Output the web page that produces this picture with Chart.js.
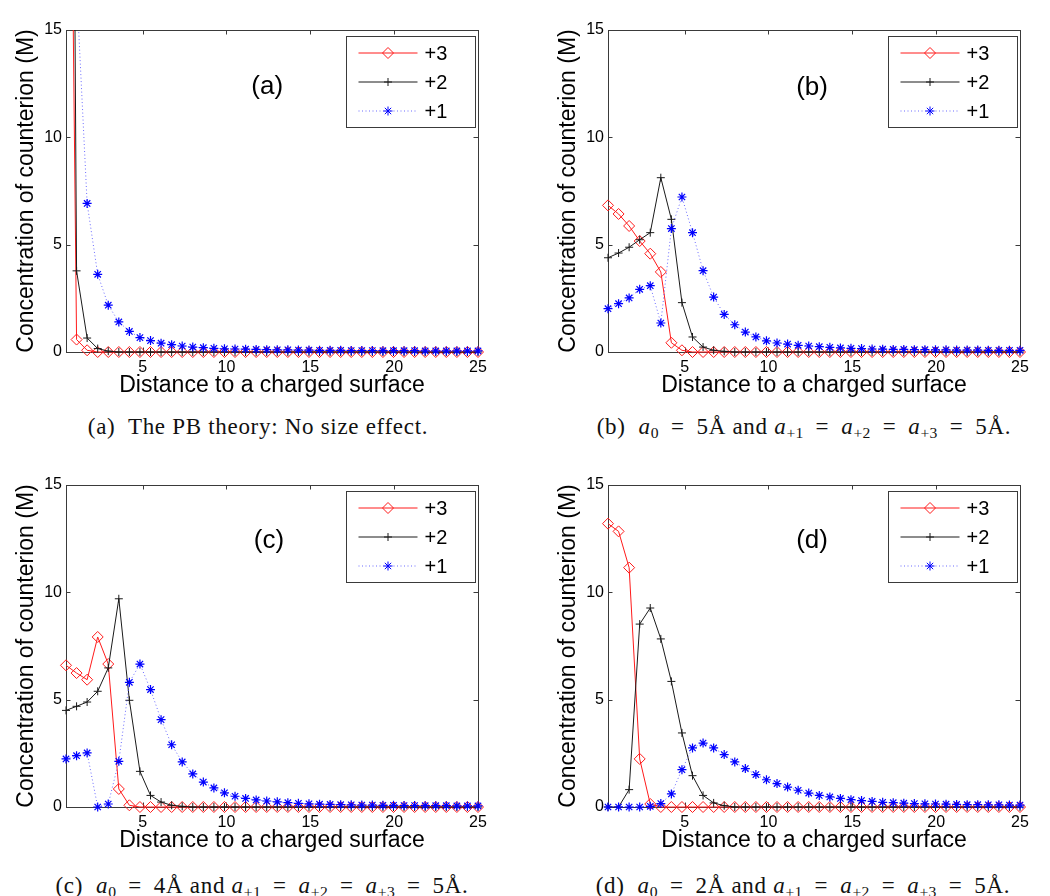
<!DOCTYPE html>
<html><head><meta charset="utf-8">
<script src="https://cdn.jsdelivr.net/npm/chart.js@4/dist/chart.umd.min.js"></script>
<style>
html,body{margin:0;padding:0;background:#fff;}
body{width:1050px;height:896px;position:relative;overflow:hidden;}
canvas{position:absolute;}
.cap{position:absolute;width:560px;text-align:center;font-family:"Liberation Serif","DejaVu Serif",serif;font-size:23px;letter-spacing:0.7px;color:#111;white-space:nowrap;line-height:1;}
.cap sub{font-size:68%;vertical-align:-0.28em;line-height:0;letter-spacing:0.3px;}
.cap .eq{margin:0 5.5px;}
</style></head><body>
<canvas id="ca" width="500" height="400" style="left:0px;top:0px"></canvas>
<canvas id="cb" width="500" height="400" style="left:542px;top:0px"></canvas>
<canvas id="cc" width="500" height="400" style="left:0px;top:455px"></canvas>
<canvas id="cd" width="500" height="400" style="left:542px;top:455px"></canvas>
<div class="cap" style="left:-22px;top:415px">(a)&nbsp; The PB theory: No size effect.</div>
<div class="cap" style="left:524px;top:415px">(b)&nbsp; <i>a</i><sub>0</sub> <span class="eq">=</span> 5Å and <i>a</i><sub>+1</sub> <span class="eq">=</span> <i>a</i><sub>+2</sub> <span class="eq">=</span> <i>a</i><sub>+3</sub> <span class="eq">=</span> 5Å.</div>
<div class="cap" style="left:-18px;top:874px">(c)&nbsp; <i>a</i><sub>0</sub> <span class="eq">=</span> 4Å and <i>a</i><sub>+1</sub> <span class="eq">=</span> <i>a</i><sub>+2</sub> <span class="eq">=</span> <i>a</i><sub>+3</sub> <span class="eq">=</span> 5Å.</div>
<div class="cap" style="left:523px;top:874px">(d)&nbsp; <i>a</i><sub>0</sub> <span class="eq">=</span> 2Å and <i>a</i><sub>+1</sub> <span class="eq">=</span> <i>a</i><sub>+2</sub> <span class="eq">=</span> <i>a</i><sub>+3</sub> <span class="eq">=</span> 5Å.</div>
<script>
// ---- data ----
const xs = [0.43,1.06,1.69,2.32,2.95,3.58,4.21,4.84,5.47,6.10,
            6.73,7.36,7.99,8.62,9.25,9.88,10.51,11.14,11.77,12.40,
            13.03,13.66,14.29,14.92,15.55,16.18,16.81,17.44,18.07,18.70,
            19.33,19.96,20.59,21.22,21.85,22.48,23.11,23.74,24.37,25.00];
const xTicks = [5,10,15,20,25];
const yTicks = [0,5,10,15];
const seriesNames = ['+3','+2','+1'];
const panelLabels = ['(a)','(b)','(c)','(d)'];
const xTitle = 'Distance to a charged surface';
const yTitle = 'Concentration of counterion (M)';

// panel (a)
const a3 = [47,0.58,0.08,0,0,0,0,0,0,0, 0,0,0,0,0,0,0,0,0,0, 0,0,0,0,0,0,0,0,0,0, 0,0,0,0,0,0,0,0,0,0];
const a2 = [80,3.78,0.65,0.16,0.04,0,0,0,0,0, 0,0,0,0,0,0,0,0,0,0, 0,0,0,0,0,0,0,0,0,0, 0,0,0,0,0,0,0,0,0,0];
const a1 = [40,17,6.92,3.62,2.18,1.40,0.96,0.67,0.53,0.41, 0.34,0.28,0.23,0.20,0.17,0.15,0.14,0.13,0.12,0.11,
            0.10,0.10,0.09,0.09,0.08,0.08,0.08,0.07,0.07,0.07, 0.06,0.06,0.06,0.06,0.05,0.05,0.05,0.05,0.05,0.05];
// panel (b)
const b3 = [6.83,6.43,5.87,5.17,4.58,3.73,0.43,0.08,0,0, 0,0,0,0,0,0,0,0,0,0, 0,0,0,0,0,0,0,0,0,0, 0,0,0,0,0,0,0,0,0,0];
const b2 = [4.39,4.61,4.88,5.23,5.56,8.12,6.18,2.30,0.70,0.23, 0.08,0.03,0,0,0,0,0,0,0,0, 0,0,0,0,0,0,0,0,0,0, 0,0,0,0,0,0,0,0,0,0];
const b1 = [2.02,2.25,2.52,2.92,3.09,1.35,5.75,7.22,5.56,3.79, 2.56,1.75,1.27,0.93,0.70,0.52,0.42,0.37,0.31,0.28,
            0.25,0.22,0.19,0.17,0.16,0.14,0.13,0.12,0.12,0.11, 0.11,0.10,0.10,0.09,0.09,0.09,0.08,0.08,0.08,0.08];
// panel (c)
const c3 = [6.60,6.24,5.93,7.92,6.66,0.84,0.08,0,0,0, 0,0,0,0,0,0,0,0,0,0, 0,0,0,0,0,0,0,0,0,0, 0,0,0,0,0,0,0,0,0,0];
const c2 = [4.50,4.69,4.89,5.39,6.48,9.70,4.97,1.66,0.54,0.23, 0.08,0.03,0,0,0,0,0,0,0,0, 0,0,0,0,0,0,0,0,0,0, 0,0,0,0,0,0,0,0,0,0];
const c1 = [2.24,2.39,2.52,0.00,0.14,2.13,5.81,6.66,5.47,4.07, 2.90,2.10,1.54,1.16,0.89,0.66,0.50,0.40,0.33,0.28,
            0.24,0.20,0.17,0.15,0.13,0.12,0.11,0.10,0.09,0.09, 0.08,0.08,0.07,0.07,0.06,0.06,0.06,0.05,0.05,0.05];
// panel (d)
const d3 = [13.20,12.84,11.15,2.24,0.14,0,0,0,0,0, 0,0,0,0,0,0,0,0,0,0, 0,0,0,0,0,0,0,0,0,0, 0,0,0,0,0,0,0,0,0,0];
const d2 = [0,0,0.81,8.52,9.27,7.83,5.85,3.45,1.46,0.54, 0.19,0.06,0,0,0,0,0,0,0,0, 0,0,0,0,0,0,0,0,0,0, 0,0,0,0,0,0,0,0,0,0];
const d1 = [0,0,0,0,0.03,0.16,0.61,1.74,2.75,2.98, 2.75,2.44,2.10,1.79,1.51,1.27,1.09,0.93,0.78,0.65,
            0.54,0.47,0.40,0.34,0.30,0.26,0.22,0.20,0.18,0.16, 0.15,0.14,0.13,0.12,0.11,0.11,0.10,0.10,0.09,0.09];

// ---- style ----
const FONT = "'Liberation Sans', Arial, sans-serif";
const RED = '#ff1a1a', BLK = '#1a1a1a', BLU = '#0000ff', BLU_LINE = 'rgba(70,70,255,0.8)';
const AXC = '#3a3a3a';

function drawMarker(ctx, style, x, y, r, color){
  ctx.save();
  ctx.strokeStyle = color; ctx.lineWidth = 1;
  ctx.beginPath();
  if (style === 'rectRot') {
    ctx.moveTo(x, y - r); ctx.lineTo(x + r, y); ctx.lineTo(x, y + r); ctx.lineTo(x - r, y); ctx.closePath();
  } else if (style === 'cross') {
    ctx.moveTo(x - r, y); ctx.lineTo(x + r, y); ctx.moveTo(x, y - r); ctx.lineTo(x, y + r);
  } else if (style === 'star') {
    const d = r * Math.SQRT1_2;
    ctx.moveTo(x - r, y); ctx.lineTo(x + r, y); ctx.moveTo(x, y - r); ctx.lineTo(x, y + r);
    ctx.moveTo(x - d, y - d); ctx.lineTo(x + d, y + d); ctx.moveTo(x - d, y + d); ctx.lineTo(x + d, y - d);
  }
  ctx.stroke();
  ctx.restore();
}

const matlabPlugin = {
  id: 'matlabBox',
  beforeDatasetsDraw(chart) {
    const {ctx, chartArea: a, scales: {x, y}} = chart;
    ctx.save();
    ctx.strokeStyle = AXC; ctx.lineWidth = 1;
    ctx.strokeRect(Math.round(a.left) + 0.5, Math.round(a.top) + 0.5, Math.round(a.right - a.left), Math.round(a.bottom - a.top));
    ctx.beginPath();
    const tl = 4.5;
    x.ticks.forEach(t => {
      if (t.value >= x.max) return;
      const px = Math.round(x.getPixelForValue(t.value)) + 0.5;
      ctx.moveTo(px, a.bottom); ctx.lineTo(px, a.bottom - tl);
      ctx.moveTo(px, a.top); ctx.lineTo(px, a.top + tl);
    });
    y.ticks.forEach(t => {
      if (t.value <= y.min || t.value >= y.max) return;
      const py = Math.round(y.getPixelForValue(t.value)) + 0.5;
      ctx.moveTo(a.left, py); ctx.lineTo(a.left + tl, py);
      ctx.moveTo(a.right, py); ctx.lineTo(a.right - tl, py);
    });
    ctx.stroke();
    ctx.restore();
  },
  afterDraw(chart, args, opts) {
    const {ctx, chartArea: a, scales: {x, y}} = chart;
    // panel label
    ctx.save();
    ctx.fillStyle = '#000';
    ctx.font = '26px ' + FONT;
    ctx.textAlign = 'center'; ctx.textBaseline = 'middle';
    ctx.fillText(opts.label, x.getPixelForValue(opts.lx), y.getPixelForValue(opts.ly));
    // legend
    const w = 129, h = 91;
    const L = Math.round(a.right - 3.5 - w) + 0.5, T = Math.round(a.top + 6) + 0.5;
    ctx.fillStyle = '#fff';
    ctx.fillRect(L, T, w, h);
    ctx.strokeStyle = AXC; ctx.lineWidth = 1;
    ctx.strokeRect(L, T, w, h);
    chart.data.datasets.forEach((ds, i) => {
      const yy = T + 16.5 + i * 29;
      ctx.save();
      ctx.strokeStyle = ds.borderColor; ctx.lineWidth = 1;
      ctx.setLineDash(ds.borderDash || []);
      ctx.beginPath(); ctx.moveTo(L + 12, yy); ctx.lineTo(L + 71, yy); ctx.stroke();
      ctx.restore();
      drawMarker(ctx, ds.pointStyle, L + 41.5, yy, ds.pointRadius, ds.pointBorderColor);
      ctx.fillStyle = '#000';
      ctx.font = '20px ' + FONT;
      ctx.textAlign = 'left'; ctx.textBaseline = 'middle';
      ctx.fillText(ds.label, L + 78, yy + 1);
    });
    ctx.restore();
  }
};

function pts(arr){ return xs.map((x, i) => ({x: x, y: arr[i]})); }
const CLIP = {left: 8, right: 8, top: 0, bottom: 8};

function makeChart(id, s3, s2, s1, label, lx, ly) {
  return new Chart(document.getElementById(id), {
    type: 'line',
    data: {datasets: [
      {label: seriesNames[0], data: pts(s3), borderColor: RED, borderWidth: 1, pointStyle: 'rectRot', pointRadius: 5.5,
       pointBorderColor: RED, pointBackgroundColor: 'rgba(0,0,0,0)', pointBorderWidth: 1, tension: 0, order: 2, clip: CLIP},
      {label: seriesNames[1], data: pts(s2), borderColor: BLK, borderWidth: 1, pointStyle: 'cross', pointRadius: 4,
       pointBorderColor: BLK, pointBackgroundColor: 'rgba(0,0,0,0)', pointBorderWidth: 1, tension: 0, order: 1, clip: CLIP},
      {label: seriesNames[2], data: pts(s1), borderColor: BLU_LINE, borderWidth: 1, borderDash: [1, 2.5], pointStyle: 'star', pointRadius: 4.5,
       pointBorderColor: BLU, pointBackgroundColor: 'rgba(0,0,0,0)', pointBorderWidth: 1.2, tension: 0, order: 0, clip: CLIP}
    ]},
    options: {
      responsive: false, animation: false, events: [],
      layout: {padding: {left: 0, top: 30, right: 22, bottom: 0}},
      plugins: {legend: {display: false}, tooltip: {enabled: false}, matlabBox: {label: label, lx: lx, ly: ly}},
      scales: {
        x: {type: 'linear', min: 0.43, max: 25,
            afterBuildTicks: s => { s.ticks = xTicks.map(v => ({value: v})); },
            afterFit: s => { s.height = 48; },
            grid: {display: false, drawTicks: false}, border: {display: false},
            ticks: {padding: 6, color: '#000', font: {family: FONT, size: 16}, autoSkip: false, maxRotation: 0},
            title: {display: true, text: xTitle, color: '#000', font: {family: FONT, size: 23}, padding: {top: 0, bottom: 1}}},
        y: {type: 'linear', min: 0, max: 15,
            afterBuildTicks: s => { s.ticks = yTicks.map(v => ({value: v})); },
            afterFit: s => { s.width = 66; },
            grid: {display: false, drawTicks: false}, border: {display: false},
            ticks: {padding: 4, color: '#000', font: {family: FONT, size: 16}, autoSkip: false},
            title: {display: true, text: yTitle, color: '#000', font: {family: FONT, size: 23}, padding: {top: 12.5, bottom: 0}}}
      }
    },
    plugins: [matlabPlugin]
  });
}

makeChart('ca', a3, a2, a1, panelLabels[0], 12.43, 12.35);
makeChart('cb', b3, b2, b1, panelLabels[1], 12.6, 12.3);
makeChart('cc', c3, c2, c1, panelLabels[2], 12.53, 12.38);
makeChart('cd', d3, d2, d1, panelLabels[3], 12.6, 12.38);
</script>
</body></html>
